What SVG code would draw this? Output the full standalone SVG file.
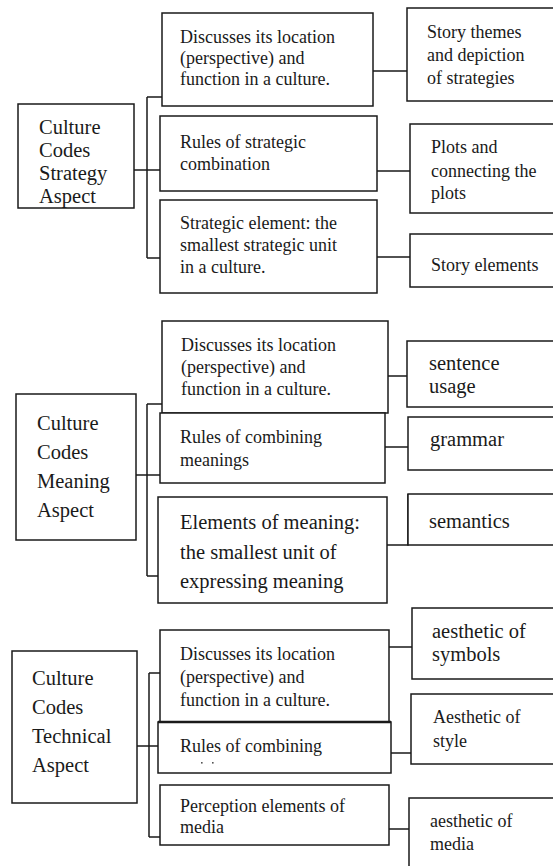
<svg xmlns="http://www.w3.org/2000/svg" width="553" height="866" viewBox="0 0 553 866">
  <style>
    .box { fill: #ffffff; stroke: #1a1a1a; stroke-width: 1.5; }
    .wire { fill: none; stroke: #1a1a1a; stroke-width: 1.5; }
    text { font-family: "Liberation Serif", "Times New Roman", serif; fill: #1a1a1a; }
    .root { font-size: 20.5px; }
    .mid { font-size: 18px; }
    .leaf { font-size: 18px; }
    .big { font-size: 20.5px; }
  </style>
  <rect width="553" height="866" fill="#ffffff"/>

  <!-- connectors -->
  <g id="connectors">
    <!-- strategy aspect -->
    <path class="wire" d="M134 170 H160 M147 97 V258 M147 97 H162 M147 258 H160"/>
    <path class="wire" d="M373 71 H407 M377 171 H410 M377 257 H410"/>
    <!-- meaning aspect -->
    <path class="wire" d="M136 475 H160 M147 404 V576 M147 404 H162 M147 576 H160"/>
    <path class="wire" d="M385 376 H407 M385 447 H408 M387 545 H408 V494"/>
    <!-- technical aspect -->
    <path class="wire" d="M137 746 H160 M149 673 V837 M149 673 H160 M149 837 H160"/>
    <path class="wire" d="M389 647 H412 M391 753 H411 M389 829 H409"/>
  </g>

  <!-- strategy aspect -->
  <g id="strategy-root">
    <rect class="box" x="18" y="104" width="116" height="104"/>
    <text class="root" x="39" y="134">Culture</text>
    <text class="root" x="39" y="157">Codes</text>
    <text class="root" x="39" y="180">Strategy</text>
    <text class="root" x="39" y="203">Aspect</text>
  </g>
  <g id="strategy-location">
    <rect class="box" x="162" y="13" width="211" height="93"/>
    <text class="mid" x="180" y="43">Discusses its location</text>
    <text class="mid" x="180" y="64">(perspective) and</text>
    <text class="mid" x="180" y="85">function in a culture.</text>
  </g>
  <g id="strategy-rules">
    <rect class="box" x="160" y="116" width="217" height="75"/>
    <text class="mid" x="180" y="148">Rules of strategic</text>
    <text class="mid" x="180" y="170">combination</text>
  </g>
  <g id="strategy-element">
    <rect class="box" x="160" y="200" width="217" height="93"/>
    <text class="mid" x="180" y="229">Strategic element: the</text>
    <text class="mid" x="180" y="251">smallest strategic unit</text>
    <text class="mid" x="180" y="273">in a culture.</text>
  </g>
  <g id="story-themes">
    <rect class="box" x="407" y="8" width="160" height="93"/>
    <text class="leaf" x="427" y="38">Story themes</text>
    <text class="leaf" x="427" y="61">and depiction</text>
    <text class="leaf" x="427" y="84">of strategies</text>
  </g>
  <g id="plots">
    <rect class="box" x="410" y="124" width="160" height="89"/>
    <text class="leaf" x="431" y="153">Plots and</text>
    <text class="leaf" x="431" y="177">connecting the</text>
    <text class="leaf" x="431" y="199">plots</text>
  </g>
  <g id="story-elements">
    <rect class="box" x="410" y="234" width="160" height="53"/>
    <text class="leaf" x="431" y="271">Story elements</text>
  </g>

  <!-- meaning aspect -->
  <g id="meaning-root">
    <rect class="box" x="16" y="394" width="120" height="146"/>
    <text class="root" x="37" y="430">Culture</text>
    <text class="root" x="37" y="459">Codes</text>
    <text class="root" x="37" y="488">Meaning</text>
    <text class="root" x="37" y="517">Aspect</text>
  </g>
  <g id="meaning-location">
    <rect class="box" x="162" y="321" width="226" height="92"/>
    <text class="mid" x="181" y="351">Discusses its location</text>
    <text class="mid" x="181" y="373">(perspective) and</text>
    <text class="mid" x="181" y="395">function in a culture.</text>
  </g>
  <g id="meaning-rules">
    <rect class="box" x="160" y="413" width="225" height="70"/>
    <text class="mid" x="180" y="443">Rules of combining</text>
    <text class="mid" x="180" y="466">meanings</text>
  </g>
  <g id="meaning-element">
    <rect class="box" x="158" y="497" width="229" height="106"/>
    <text class="big" x="180" y="529">Elements of meaning:</text>
    <text class="big" x="180" y="559">the smallest unit of</text>
    <text class="big" x="180" y="588">expressing meaning</text>
  </g>
  <g id="sentence-usage">
    <rect class="box" x="407" y="341" width="160" height="66"/>
    <text class="big" x="429" y="370">sentence</text>
    <text class="big" x="429" y="393">usage</text>
  </g>
  <g id="grammar">
    <rect class="box" x="408" y="417" width="160" height="53"/>
    <text class="big" x="430" y="446">grammar</text>
  </g>
  <g id="semantics">
    <rect class="box" x="408" y="494" width="160" height="51"/>
    <text class="big" x="429" y="528">semantics</text>
  </g>

  <!-- technical aspect -->
  <g id="technical-root">
    <rect class="box" x="12" y="651" width="125" height="152"/>
    <text class="root" x="32" y="685">Culture</text>
    <text class="root" x="32" y="714">Codes</text>
    <text class="root" x="32" y="743">Technical</text>
    <text class="root" x="32" y="772">Aspect</text>
  </g>
  <g id="technical-location">
    <rect class="box" x="160" y="630" width="229" height="92"/>
    <text class="mid" x="180" y="660">Discusses its location</text>
    <text class="mid" x="180" y="683">(perspective) and</text>
    <text class="mid" x="180" y="706">function in a culture.</text>
  </g>
  <g id="technical-rules">
    <rect class="box" x="158" y="722" width="233" height="51"/>
    <line x1="158" y1="722" x2="391" y2="722" stroke="#1a1a1a" stroke-width="2.5"/>
    <text class="mid" x="180" y="752">Rules of combining</text>
    <rect x="201" y="762" width="1.6" height="1.6" fill="#555"/>
    <rect x="212" y="762" width="1.6" height="1.6" fill="#555"/>
  </g>
  <g id="technical-perception">
    <rect class="box" x="160" y="785" width="229" height="60"/>
    <text class="mid" x="180" y="812">Perception elements of</text>
    <text class="mid" x="180" y="833">media</text>
  </g>
  <g id="aesthetic-symbols">
    <rect class="box" x="412" y="608" width="160" height="71"/>
    <text class="big" x="432" y="638">aesthetic of</text>
    <text class="big" x="432" y="661">symbols</text>
  </g>
  <g id="aesthetic-style">
    <rect class="box" x="411" y="694" width="160" height="70"/>
    <text class="leaf" x="433" y="723">Aesthetic of</text>
    <text class="leaf" x="433" y="747">style</text>
  </g>
  <g id="aesthetic-media">
    <rect class="box" x="409" y="798" width="160" height="80"/>
    <text class="leaf" x="430" y="827">aesthetic of</text>
    <text class="leaf" x="430" y="850">media</text>
  </g>
</svg>
